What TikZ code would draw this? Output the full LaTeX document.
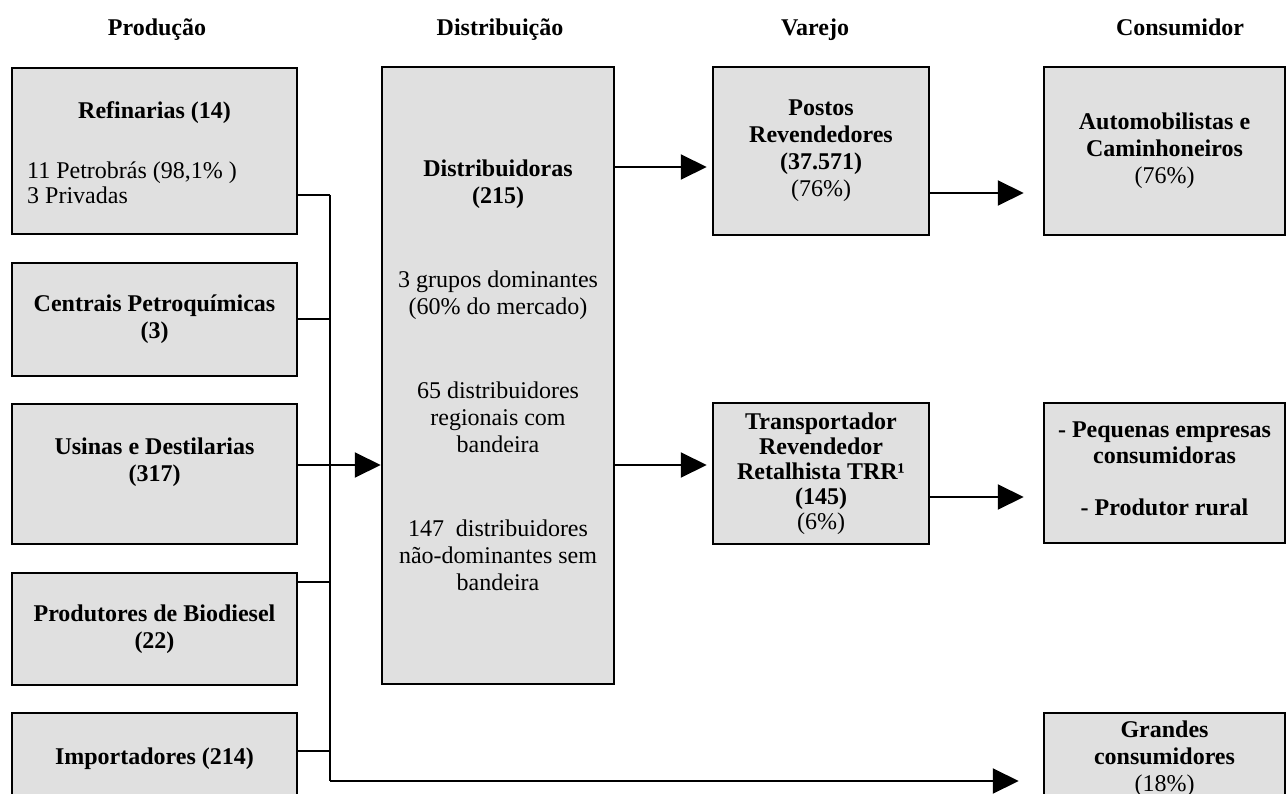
\documentclass[tikz,border=0pt]{standalone}
\usepackage{fontspec}
\setmainfont{Liberation Serif}
\usetikzlibrary{arrows.meta}
\definecolor{cinzacaixa}{gray}{0.88}
\tikzset{
  x=1pt, y=-1pt,
  texto/.style = {align=center, inner sep=0pt, font=\fontsize{24}{27}\selectfont},
  titulo/.style = {texto, font=\fontsize{24}{27}\selectfont\bfseries},
  cabecalho/.style = {titulo, anchor=base},
  caixa/.style = {texto, draw=black, line width=2.5pt, fill=cinzacaixa},
  caixa_p/.style = {caixa, minimum width=285pt},
  caixa_d/.style = {caixa, minimum width=232pt},
  caixa_v/.style = {caixa, minimum width=216pt},
  caixa_c/.style = {caixa, minimum width=241pt},
  liga/.style = {line width=2pt},
  seta/.style = {liga, -{Triangle[length=26pt,width=25pt]}}
}

\begin{document}
\begin{tikzpicture}
	\useasboundingbox (0,0) rectangle (1287,794);
	\clip (0,0) rectangle (1287,794);
	% cabecalhos
	\node [cabecalho] (h_prod) at (157,36) {Produção};
	\node [cabecalho] (h_dist) at (500,36) {Distribuição};
	\node [cabecalho] (h_var) at (815,36) {Varejo};
	\node [cabecalho] (h_cons) at (1180,36) {Consumidor};
	% producao
	\node [caixa_p, minimum height=166pt] (refin) at (154.5,151) {};
	\node [titulo] (refin_t) at (154.5,113) {Refinarias (14)};
	\node [texto, align=left, anchor=west, font=\fontsize{24}{25}\selectfont] (refin_d) at (27,182.5)
		{11 Petrobrás (98,1\% )\\ 3 Privadas};
	\node [caixa_p, minimum height=113pt] (centr) at (154.5,319.5)
		{\textbf{Centrais Petroquímicas}\\ \textbf{(3)}};
	\node [caixa_p, minimum height=140pt] (usinas) at (154.5,474) {};
	\node [titulo] (usinas_t) at (154.5,462) {Usinas e Destilarias\\ (317)};
	\node [caixa_p, minimum height=112pt] (bio) at (154.5,629)
		{\textbf{Produtores de Biodiesel}\\ \textbf{(22)}};
	\node [caixa_p, minimum height=91pt] (import) at (154.5,758.5)
		{\textbf{Importadores (214)}};
	% distribuicao
	\node [caixa_d, minimum height=617pt] (distr) at (498,375.5)
		{\textbf{Distribuidoras}\\ \textbf{(215)}\\[57pt]
		 3 grupos dominantes\\ (60\% do mercado)\\[57pt]
		 65 distribuidores\\ regionais com\\ bandeira\\[57pt]
		 147~ distribuidores\\ não-dominantes sem\\ bandeira};
	% varejo
	\node [caixa_v, minimum height=168pt] (postos) at (821,151)
		{\textbf{Postos}\\ \textbf{Revendedores}\\ \textbf{(37.571)}\\ (76\%)};
	\node [caixa_v, minimum height=141pt, font=\fontsize{24}{25}\selectfont] (trr) at (821,473.5)
		{\textbf{Transportador}\\ \textbf{Revendedor}\\ \textbf{Retalhista TRR¹}\\ \textbf{(145)}\\ (6\%)};
	% consumidor
	\node [caixa_c, minimum height=168pt] (auto) at (1164.5,151)
		{\textbf{Automobilistas e}\\ \textbf{Caminhoneiros}\\ (76\%)};
	\node [caixa_c, minimum height=140pt] (peq) at (1164.5,473) {};
	\node [titulo, font=\fontsize{24}{26}\selectfont\bfseries] (peq_t) at (1164.5,469)
		{- Pequenas empresas\\ consumidoras\\[26pt] - Produtor rural};
	\node [caixa_c, minimum height=91pt] (grandes) at (1164.5,758.5)
		{\textbf{Grandes}\\ \textbf{consumidores}\\ (18\%)};
	% barramento
	\coordinate (b1) at (330,195);
	\coordinate (b2) at (330,319);
	\coordinate (b3) at (330,465);
	\coordinate (b4) at (330,582);
	\coordinate (b5) at (330,751);
	\coordinate (b6) at (330,781);
	\draw [liga] (refin.east |- b1) -- (b1);
	\draw [liga] (centr.east |- b2) -- (b2);
	\draw [liga] (bio.east |- b4) -- (b4);
	\draw [liga] (import.east |- b5) -- (b5);
	\draw [liga] (b1) -- (b6);
	\draw [seta] (usinas.east |- b3) -- (distr.west |- b3);
	\draw [seta, shorten >=24pt] (b6) -- (grandes.west |- b6);
	% setas
	\draw [seta, shorten >=5pt] ([yshift=-16pt]postos.west -| distr.east) -- ([yshift=-16pt]postos.west);
	\draw [seta, shorten >=5pt] ([yshift=8.5pt]trr.west -| distr.east) -- ([yshift=8.5pt]trr.west);
	\draw [seta, shorten >=19pt] ([yshift=-42pt]postos.east) -- ([yshift=-42pt]postos.east -| auto.west);
	\draw [seta, shorten >=19pt] ([yshift=-23.5pt]trr.east) -- ([yshift=-23.5pt]trr.east -| peq.west);
\end{tikzpicture}
\end{document}
